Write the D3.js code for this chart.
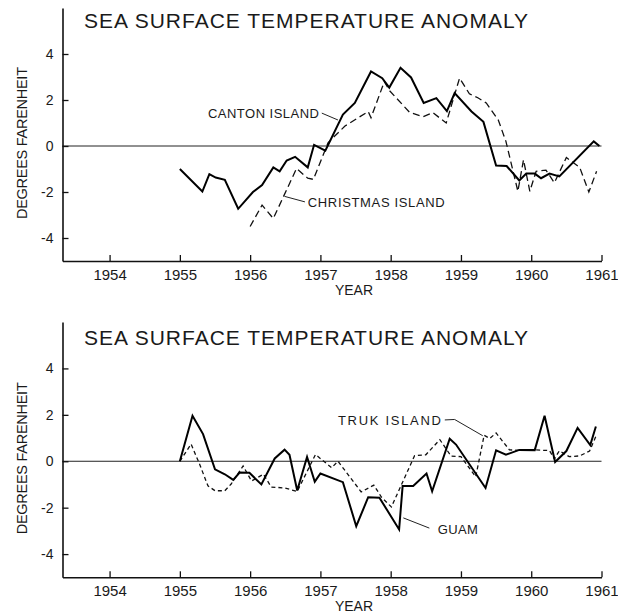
<!DOCTYPE html>
<html>
<head>
<meta charset="utf-8">
<script src="https://cdn.jsdelivr.net/npm/d3@7"></script>
<style>
  body { margin: 0; background: #fff; }
  text { font-family: "Liberation Sans", Arial, sans-serif; fill: #1a1a1a; }
</style>
</head>
<body>
<script>
let svgWidth = 618
let svgHeight = 616

// tick labels
let xTicks = [1954, 1955, 1956, 1957, 1958, 1959, 1960, 1961]
let yTicks = [-4, -2, 0, 2, 4]

// top panel: Canton Island (solid), Christmas Island (dashed)
let cantonYears = [1955.00, 1955.32, 1955.42, 1955.51, 1955.64, 1955.83, 1956.04, 1956.17, 1956.33, 1956.42,
    1956.52, 1956.64, 1956.82, 1956.91, 1957.07, 1957.32, 1957.49, 1957.72, 1957.88, 1957.98,
    1958.14, 1958.29, 1958.47, 1958.65, 1958.80, 1958.91, 1959.15, 1959.32, 1959.50, 1959.65,
    1959.83, 1959.93, 1960.05, 1960.14, 1960.26, 1960.40, 1960.89, 1960.97]
let cantonValues = [-1.0, -1.98, -1.22, -1.37, -1.47, -2.73, -2.0, -1.7, -0.93, -1.1,
    -0.63, -0.47, -0.93, 0.05, -0.2, 1.37, 1.87, 3.24, 2.95, 2.54,
    3.4, 2.98, 1.87, 2.08, 1.52, 2.3, 1.5, 1.05, -0.85, -0.87,
    -1.5, -1.2, -1.2, -1.4, -1.2, -1.32, 0.2, 0.0]

let christmasYears = [1956.00, 1956.17, 1956.33, 1956.66, 1956.82, 1956.90, 1957.11, 1957.35, 1957.68, 1957.72,
    1957.91, 1957.98, 1958.27, 1958.46, 1958.60, 1958.79, 1958.98, 1959.12, 1959.24, 1959.36,
    1959.53, 1959.64, 1959.81, 1959.89, 1959.98, 1960.07, 1960.21, 1960.33, 1960.50, 1960.69,
    1960.82, 1960.93]
let christmasValues = [-3.5, -2.57, -3.15, -0.98, -1.4, -1.45, 0.15, 0.87, 1.5, 1.23,
    2.8, 2.42, 1.46, 1.27, 1.45, 1.0, 2.95, 2.27, 2.1, 1.87,
    1.14, 0.2, -1.97, -0.6, -1.97, -1.1, -1.05, -1.6, -0.5, -0.93,
    -2.0, -1.1]

// bottom panel: Guam (solid), Truk Island (dashed)
let guamYears = [1955.00, 1955.18, 1955.33, 1955.50, 1955.64, 1955.76, 1955.85, 1955.99, 1956.16, 1956.35,
    1956.49, 1956.56, 1956.67, 1956.81, 1956.92, 1957.00, 1957.32, 1957.51, 1957.68, 1957.84,
    1958.12, 1958.17, 1958.32, 1958.51, 1958.59, 1958.84, 1958.93, 1959.35, 1959.50, 1959.64,
    1959.83, 1960.05, 1960.19, 1960.34, 1960.50, 1960.66, 1960.84, 1960.92]
let guamValues = [0.0, 1.96, 1.17, -0.35, -0.56, -0.8, -0.49, -0.5, -1.0, 0.12,
    0.5, 0.28, -1.26, 0.19, -0.88, -0.53, -0.9, -2.8, -1.55, -1.57,
    -2.94, -1.07, -1.07, -0.53, -1.29, 0.97, 0.72, -1.15, 0.47, 0.28,
    0.49, 0.48, 1.96, -0.03, 0.44, 1.44, 0.7, 1.5]

let trukYears = [1955.00, 1955.16, 1955.28, 1955.40, 1955.50, 1955.64, 1955.73, 1955.90, 1956.02, 1956.19,
    1956.30, 1956.49, 1956.67, 1956.93, 1957.16, 1957.25, 1957.58, 1957.76, 1957.87, 1958.01,
    1958.34, 1958.50, 1958.70, 1958.86, 1959.00, 1959.21, 1959.33, 1959.41, 1959.50, 1959.69,
    1959.83, 1960.05, 1960.26, 1960.33, 1960.40, 1960.54, 1960.69, 1960.83, 1960.92]
let trukValues = [0.0, 0.74, -0.12, -1.06, -1.27, -1.27, -0.98, -0.2, -0.85, -0.56,
    -1.11, -1.15, -1.3, 0.29, -0.28, 0.0, -1.32, -1.03, -1.55, -1.97,
    0.24, 0.28, 0.93, 0.22, 0.2, -0.67, 1.12, 0.98, 1.22, 0.49,
    0.47, 0.49, 0.46, 0.1, 0.45, 0.2, 0.23, 0.44, 1.07]

let svg = d3.select("body")
    .append("svg")
    .attr("width", svgWidth)
    .attr("height", svgHeight)

let xScale = d3.scaleLinear()
    .domain([1953.33, 1961])
    .range([62.5, 601.5])

function zip(xs, ys) {
    return xs.map(function (x, i) { return [x, ys[i]] })
}

function drawPanel(p) {
    let yScale = d3.scaleLinear()
        .domain([-5, 6])
        .range([p.bottom, p.top])

    let line = d3.line()
        .x(function (d) { return xScale(d[0]) })
        .y(function (d) { return yScale(d[1]) })

    let g = svg.append("g")

    // title
    g.append("text")
        .attr("x", 84)
        .attr("y", p.titleY)
        .attr("textLength", 444)
        .attr("lengthAdjust", "spacing")
        .style("font-size", "21px")
        .text("SEA SURFACE TEMPERATURE ANOMALY")

    // zero line
    g.append("line")
        .attr("x1", xScale(1953.33)).attr("x2", xScale(1961))
        .attr("y1", yScale(0)).attr("y2", yScale(0))
        .attr("stroke", "#222")
        .attr("stroke-width", 1)

    let yAxis = d3.axisLeft(yScale)
        .tickValues(yTicks)
        .tickSizeInner(-6)
        .tickSizeOuter(0)
        .tickPadding(9)
        .tickFormat(function (d) { return String(d) })

    let xAxis = d3.axisBottom(xScale)
        .tickValues(xTicks)
        .tickSizeInner(-6)
        .tickSizeOuter(0)
        .tickPadding(8)
        .tickFormat(d3.format("d"))

    let ya = g.append("g")
        .attr("transform", "translate(" + xScale.range()[0] + ",0)")
        .call(yAxis)
    ya.selectAll("text").style("font-size", "14px").attr("font-family", null)

    let xa = g.append("g")
        .attr("transform", "translate(0," + p.bottom + ")")
        .call(xAxis)
    xa.selectAll("text").style("font-size", "15px").attr("font-family", null)

    g.selectAll(".domain").attr("stroke", "#111").attr("stroke-width", 1.6)
    g.selectAll(".tick line").attr("stroke", "#111").attr("stroke-width", 1.3)

    // axis titles
    g.append("text")
        .attr("x", 354)
        .attr("y", p.bottom + 34)
        .attr("text-anchor", "middle")
        .style("font-size", "14px")
        .text("YEAR")

    g.append("text")
        .attr("transform", "translate(27," + (yScale(0) - 3) + ") rotate(-90)")
        .attr("text-anchor", "middle")
        .attr("textLength", 152)
        .attr("lengthAdjust", "spacing")
        .style("font-size", "14.5px")
        .text("DEGREES FARENHEIT")

    // series
    g.append("path")
        .datum(zip(p.dashYears, p.dashValues))
        .attr("fill", "none")
        .attr("stroke", "#111")
        .attr("stroke-width", 1.3)
        .attr("stroke-dasharray", p.dash)
        .attr("d", line)

    g.append("path")
        .datum(zip(p.solidYears, p.solidValues))
        .attr("fill", "none")
        .attr("stroke", "#000")
        .attr("stroke-width", 2)
        .attr("stroke-linejoin", "miter")
        .attr("d", line)

    // labels with leader lines
    p.labels.forEach(function (l) {
        g.append("path")
            .datum(l.leader)
            .attr("fill", "none")
            .attr("stroke", "#222")
            .attr("stroke-width", 1)
            .attr("d", line)
        g.append("text")
            .attr("x", xScale(l.at[0]))
            .attr("y", yScale(l.at[1]))
            .attr("textLength", l.len)
            .attr("lengthAdjust", "spacing")
            .style("font-size", "13px")
            .text(l.name)
    })
}

drawPanel({
    top: 8, bottom: 261, titleY: 28,
    solidYears: cantonYears, solidValues: cantonValues,
    dashYears: christmasYears, dashValues: christmasValues,
    dash: "7,4",
    labels: [
        { name: "CANTON ISLAND", at: [1955.40, 1.23], len: 111,
          leader: [[1957.02, 1.43], [1957.25, 1.13]] },
        { name: "CHRISTMAS ISLAND", at: [1956.82, -2.64], len: 137,
          leader: [[1956.49, -2.19], [1956.78, -2.43]] }
    ]
})

drawPanel({
    top: 322, bottom: 577.3, titleY: 345,
    solidYears: guamYears, solidValues: guamValues,
    dashYears: trukYears, dashValues: trukValues,
    dash: "4,3",
    labels: [
        { name: "TRUK ISLAND", at: [1957.25, 1.57], len: 103,
          leader: [[1958.77, 1.78], [1958.91, 1.8], [1959.31, 1.1]] },
        { name: "GUAM", at: [1958.67, -3.13], len: 40,
          leader: [[1958.18, -2.44], [1958.55, -2.88]] }
    ]
})
</script>
</body>
</html>
